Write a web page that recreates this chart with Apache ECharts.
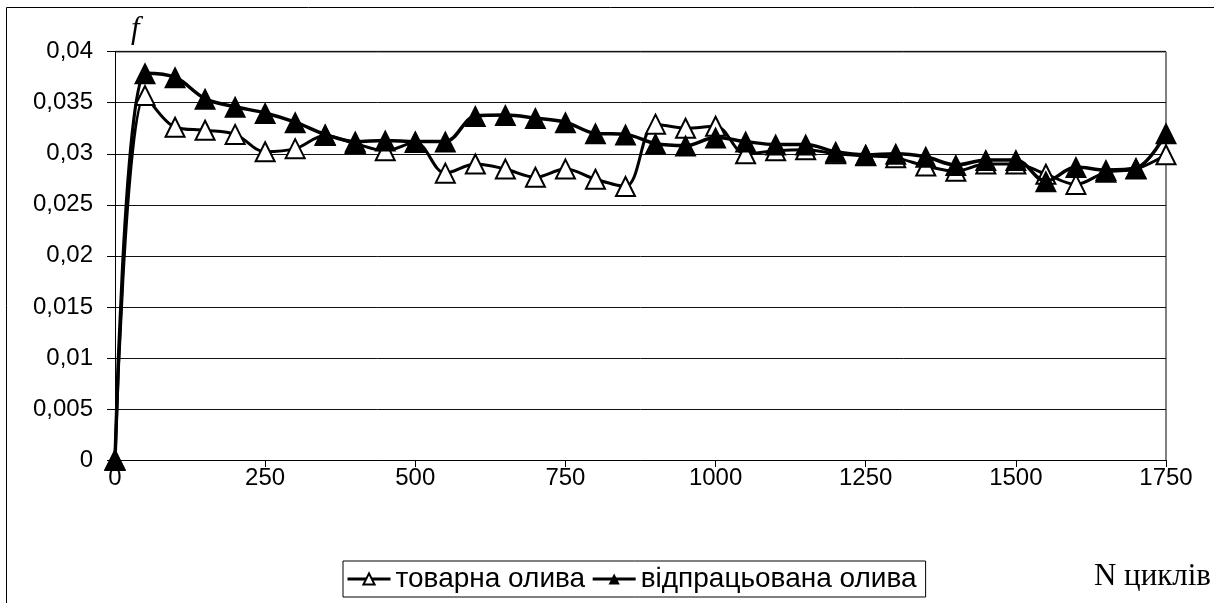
<!DOCTYPE html>
<html>
<head>
<meta charset="utf-8">
<script src="https://cdn.jsdelivr.net/npm/echarts@6/dist/echarts.min.js"></script>
<style>html,body{margin:0;padding:0;background:#fff}#c{width:1214px;height:603px}</style>
</head>
<body>
<div id="c"></div>
<script>
var cycles = [0,50,100,150,200,250,300,350,400,450,500,550,600,650,700,750,800,850,900,950,1000,1050,1100,1150,1200,1250,1300,1350,1400,1450,1500,1550,1600,1650,1700,1750];
var commercialOil = [0,0.0357,0.0326,0.0323,0.0319,0.0302,0.0305,0.0318,0.0310,0.0303,0.0311,0.0281,0.0290,0.0285,0.0277,0.0285,0.0275,0.0268,0.0329,0.0325,0.0327,0.0300,0.0303,0.0304,0.0300,0.0298,0.0296,0.0288,0.0283,0.0290,0.0290,0.0280,0.0270,0.0282,0.0285,0.0299];
var usedOil = [0,0.0379,0.0375,0.0354,0.0346,0.0340,0.0331,0.0319,0.0312,0.0313,0.0312,0.0312,0.0337,0.0338,0.0335,0.0331,0.0320,0.0319,0.0310,0.0308,0.0316,0.0312,0.0309,0.0309,0.0302,0.0299,0.0300,0.0297,0.0289,0.0294,0.0294,0.0273,0.0287,0.0284,0.0286,0.0320];
var seriesNames = ['товарна олива','відпрацьована олива'];
var yTicks = {min:0,max:0.04,step:0.005};
var xTicks = {min:0,max:1750,step:250};

function pairs(xs, ys){ return xs.map(function(x,i){ return [x, ys[i]]; }); }

var chart = echarts.init(document.getElementById('c'));
chart.setOption({
  animation:false,
  backgroundColor:'#fff',
  textStyle:{fontFamily:'Liberation Sans, Arial, sans-serif'},
  grid:{left:115,right:48,top:51.7,bottom:143,containLabel:false},
  xAxis:{
    type:'value',min:xTicks.min,max:xTicks.max,interval:xTicks.step,
    axisLine:{show:true,lineStyle:{color:'#000',width:1}},
    axisTick:{show:true,length:7,lineStyle:{color:'#000'}},
    axisLabel:{color:'#000',fontSize:24,margin:6,fontFamily:'Liberation Sans, Arial',
      formatter:function(v){ return String(v); }},
    splitLine:{show:false}
  },
  yAxis:{
    type:'value',min:yTicks.min,max:yTicks.max,interval:yTicks.step,
    axisLine:{show:true,lineStyle:{color:'#000',width:1}},
    axisTick:{show:true,length:8,lineStyle:{color:'#000'}},
    axisLabel:{color:'#000',fontSize:24,margin:22,fontFamily:'Liberation Sans, Arial',
      formatter:function(v){ return String(+v.toFixed(3)).replace('.',','); }},
    splitLine:{show:true,lineStyle:{color:'#111',width:1}}
  },
  legend:{
    left:343,top:561,
    orient:'horizontal',
    borderColor:'#000',borderWidth:1,borderRadius:0,
    padding:[4,9,4,3],
    itemGap:6,itemWidth:43,itemHeight:14,
    lineStyle:{width:3,color:'#000'},
    textStyle:{color:'#000',fontSize:28,fontFamily:'Liberation Sans, Arial'},
    data:seriesNames
  },
  graphic:[
    {type:'rect',shape:{x:6.5,y:7.5,width:1400,height:800},style:{fill:'none',stroke:'#000',lineWidth:1},silent:true},
    {type:'line',shape:{x1:115,y1:51.7,x2:1166,y2:51.7},style:{stroke:'#808080',lineWidth:2},silent:true},
    {type:'line',shape:{x1:1166,y1:51.7,x2:1166,y2:460},style:{stroke:'#808080',lineWidth:2},silent:true},
    {type:'text',left:131,top:14,style:{text:'f',font:'italic 31px "Liberation Serif", "Times New Roman", serif',fill:'#000'}},
    {type:'text',right:3,top:561,style:{text:'N циклів',font:'31px "Liberation Serif", "Times New Roman", serif',fill:'#000'}}
  ],
  series:[
    {
      name:seriesNames[0],type:'line',smooth:0.35,
      data:pairs(cycles,commercialOil),
      symbol:'triangle',symbolSize:[19,19],
      lineStyle:{color:'#000',width:3},
      itemStyle:{color:'#fff',borderColor:'#000',borderWidth:2},
      z:2
    },
    {
      name:seriesNames[1],type:'line',smooth:0.35,
      data:pairs(cycles,usedOil),
      symbol:'triangle',symbolSize:[22,22],
      lineStyle:{color:'#000',width:3.5},
      itemStyle:{color:'#000',borderColor:'#000',borderWidth:0},
      z:3
    }
  ]
});
</script>
</body>
</html>
